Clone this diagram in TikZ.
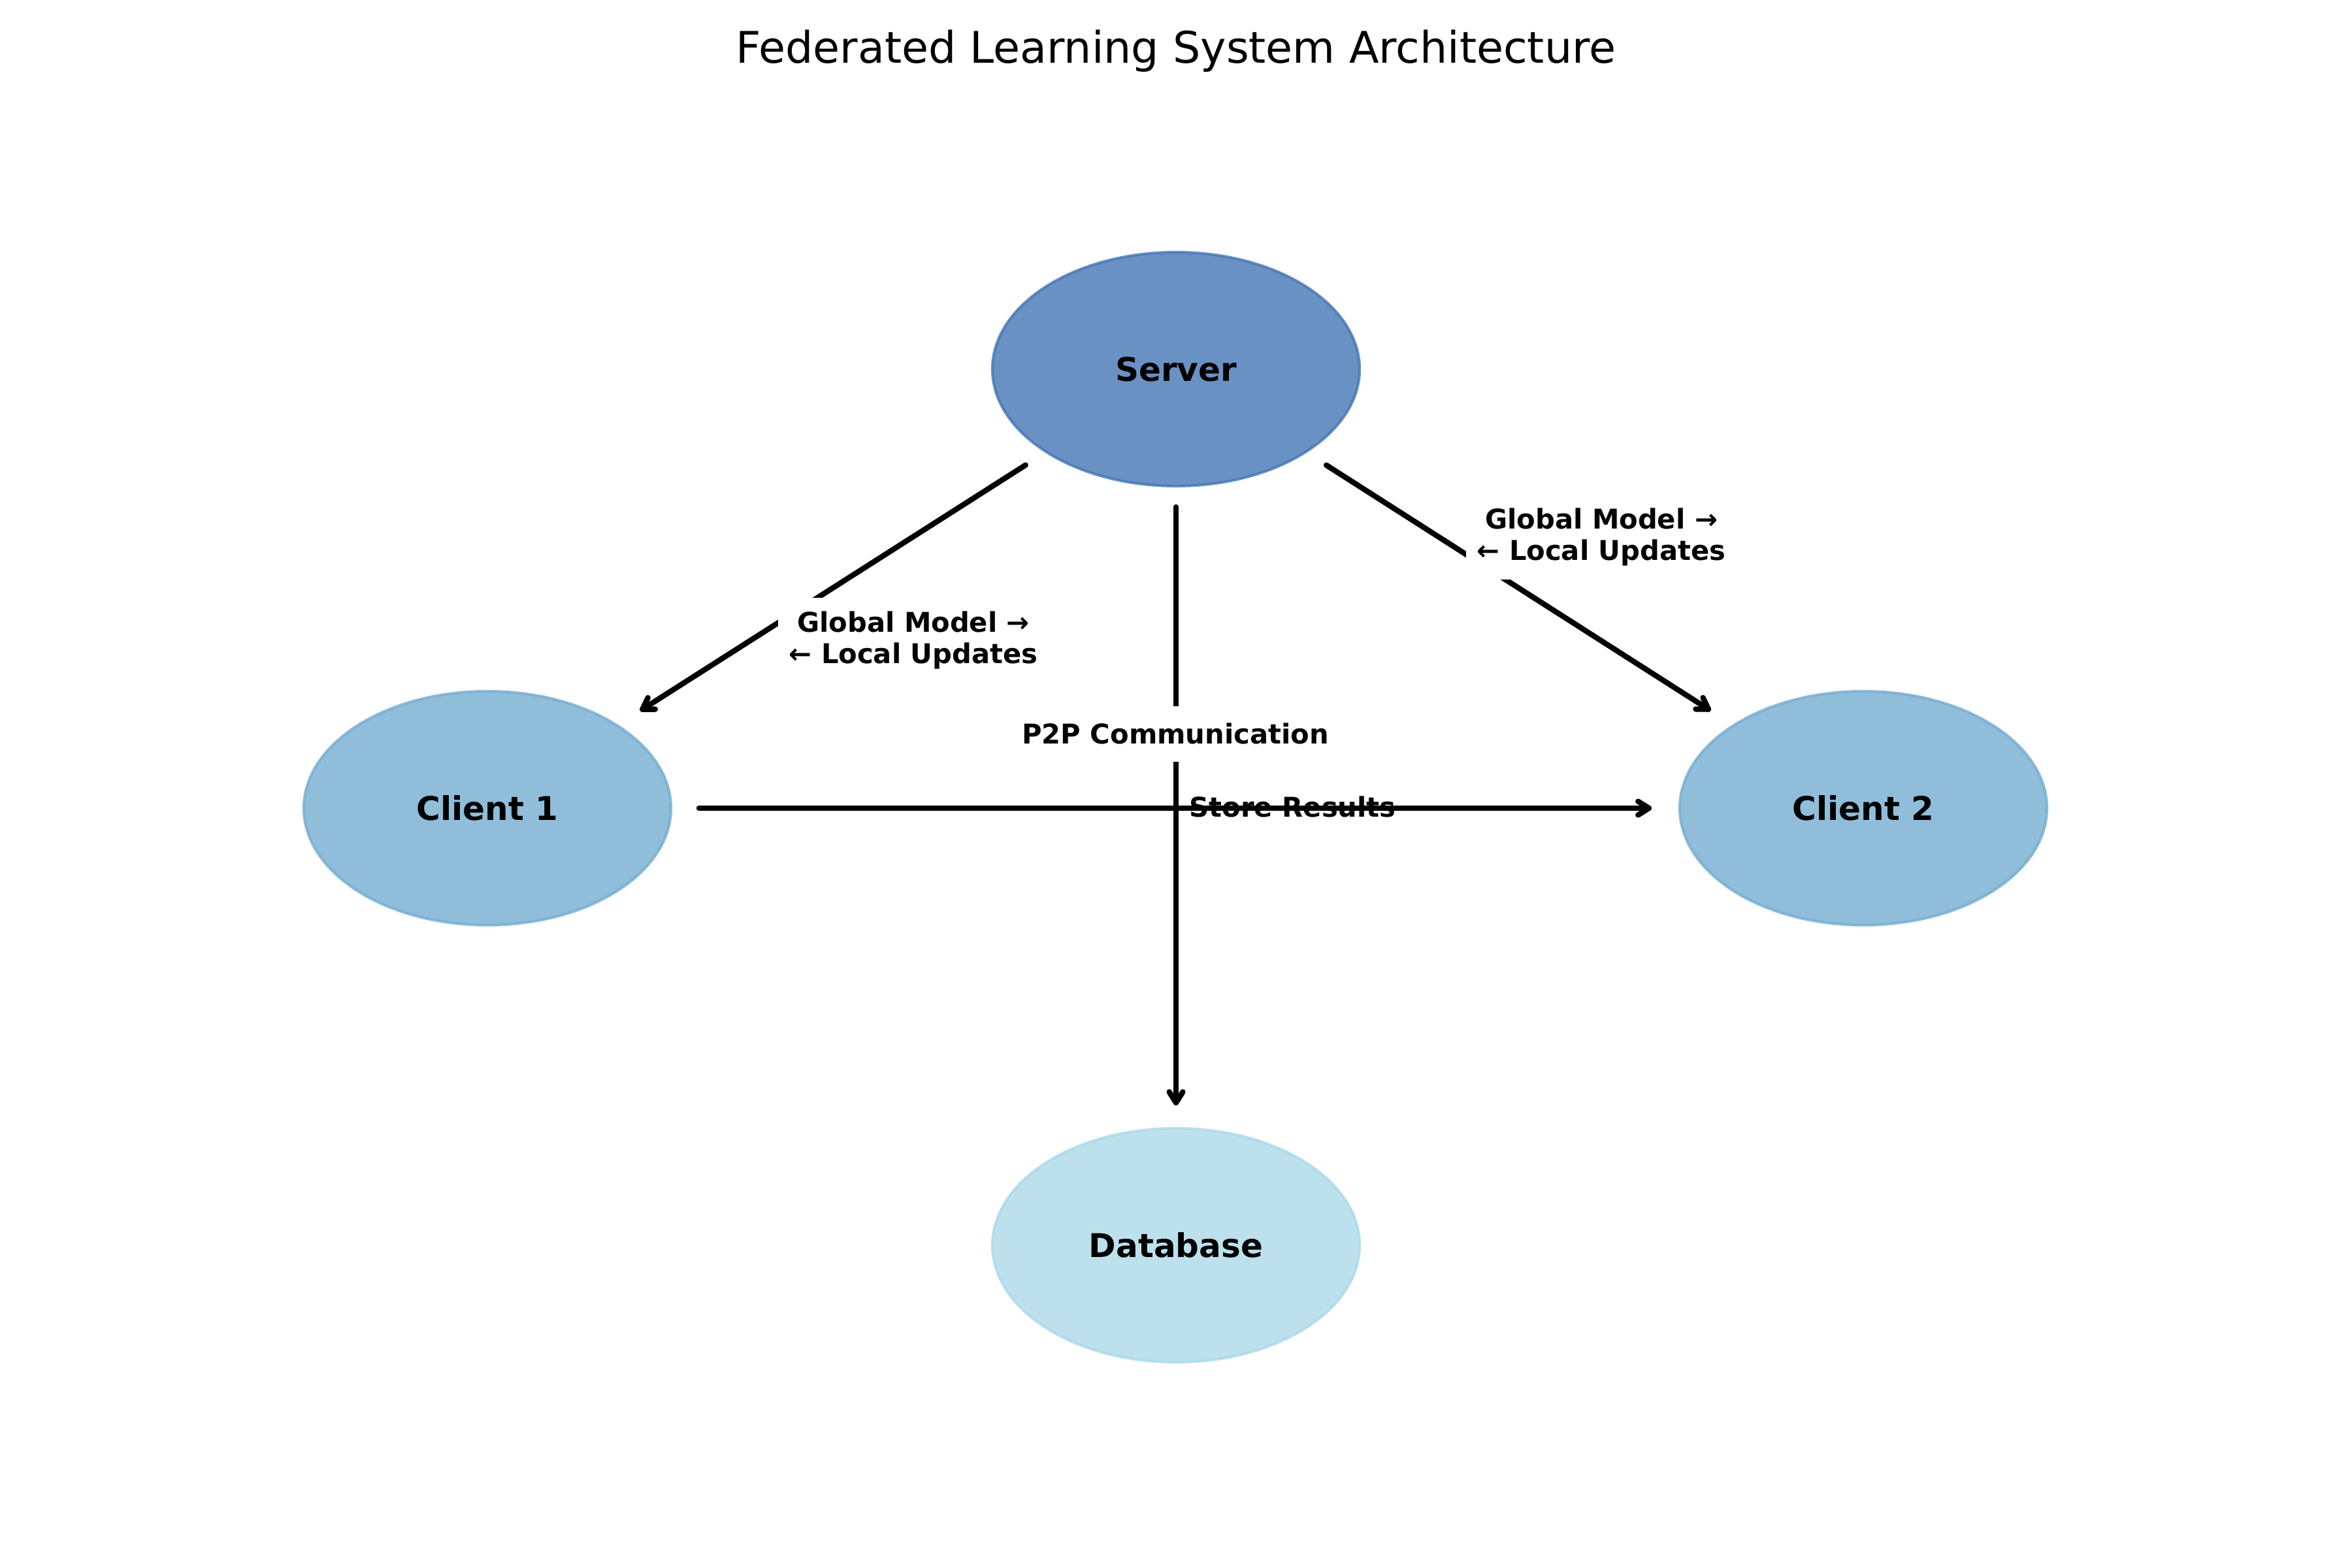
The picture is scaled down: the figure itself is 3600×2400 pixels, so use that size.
\documentclass[tikz,border=0pt]{standalone}
\usepackage{fontspec}
\setmainfont{DejaVu Sans}
\usetikzlibrary{positioning, shapes.geometric, arrows.meta}

\definecolor{serverblue}{HTML}{4575B4}
\definecolor{clientblue}{HTML}{74ADD1}
\definecolor{dbblue}{HTML}{ABD9E9}

\begin{document}
\begin{tikzpicture}[
  x=0.24pt, y=-0.24pt,
  ent/.style={ellipse, fill=#1, draw=#1, fill opacity=0.8, draw opacity=0.8, text opacity=1,
    line width=1pt, minimum width=134.9pt, minimum height=85.9pt, inner sep=0pt, outer sep=0pt,
    font=\bfseries\fontsize{12}{14}\selectfont},
  lbl/.style={fill=white, inner xsep=4pt, inner ysep=5pt, align=center,
    font=\bfseries\fontsize{10}{11.5}\selectfont},
  onelbl/.style={lbl, inner ysep=5.2pt, text height=0.86em, text depth=0.14em},
    arr/.style={-{Straight Barb[length=4pt, width=5pt, line cap=round, line join=round]},
    line width=2pt, line cap=round, shorten <=9pt, shorten >=10pt}
]
\useasboundingbox (0,0) rectangle (3600,2400);

\node[font=\fontsize{16}{19}\selectfont, anchor=base] (title) at (1800,97) {Federated Learning System Architecture};

\node[ent=serverblue] (server) at (1800,565) {Server};
\node[ent=clientblue] (client1) at (746,1237) {Client 1};
\node[ent=clientblue] (client2) at (2852,1237) {Client 2};
\node[ent=dbblue] (db) at (1800,1906) {Database};

\draw[arr] (server) -- node[lbl, xshift=30pt, yshift=-19pt] (gm1) {Global Model →\\← Local Updates} (client1);
\draw[arr] (server) -- node[lbl, xshift=30pt, yshift=19pt] (gm2) {Global Model →\\← Local Updates} (client2);
\draw[arr, shorten <=7.7pt, shorten >=8.4pt] (server) -- node[onelbl, anchor=west] (store) {Store Results} (db);
\draw[arr, shorten <=10.3pt, shorten >=10.3pt] (client1) -- node[onelbl, above=16pt] (p2p) {P2P Communication} (client2);
\end{tikzpicture}
\end{document}
